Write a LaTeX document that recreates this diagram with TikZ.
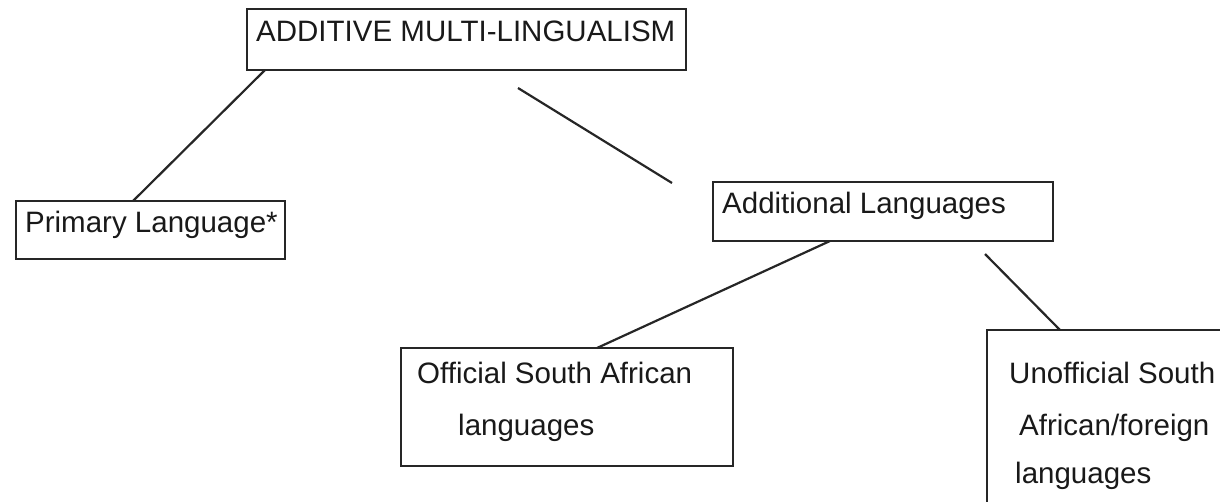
\documentclass[tikz,border=0pt]{standalone}
\usepackage{fontspec}
\setmainfont{Liberation Sans}
\begin{document}
\begin{tikzpicture}[x=1pt,y=-1pt,
  box/.style={draw=black!85, line width=2.2pt, rectangle, inner sep=0pt},
  txt/.style={anchor=base west, inner sep=0pt, text=black!90, font=\fontsize{29.5}{35}\selectfont},
  link/.style={draw=black!85, line width=2.2pt}]
\useasboundingbox (0,0) rectangle (1220,501);
\clip (0,0) rectangle (1220,501);
% boxes
\node[box, minimum width=439pt, minimum height=61pt] (top) at (466.5,39.5) {};
\node[box, minimum width=269pt, minimum height=58pt] (prim) at (150.5,230) {};
\node[box, minimum width=340pt, minimum height=59pt] (addl) at (883,211.5) {};
\node[box, minimum width=332pt, minimum height=118pt] (offl) at (567,407) {};
\node[box, minimum width=253pt, minimum height=190pt] (unof) at (1113.5,425) {};
% texts
\node[txt] (t1) at (256,41) {ADDITIVE MULTI-LINGUALISM};
\node[txt] (t2) at (25,232) {Primary Language*};
\node[txt] (t3) at (722,213) {Additional Languages};
\node[txt] (t4) at (417,383) {Official South African};
\node[txt] (t5) at (458,435) {languages};
\node[txt] (t6) at (1009,383) {Unofficial South};
\node[txt] (t7) at (1019,435) {African/foreign};
\node[txt] (t8) at (1015,483) {languages};
% connector end points
\coordinate (a1) at (265,70);
\coordinate (a2) at (133,201);
\coordinate (b1) at (518,88);
\coordinate (b2) at (672,183);
\coordinate (c1) at (830,241);
\coordinate (c2) at (597,348);
\coordinate (d1) at (985,254);
\coordinate (d2) at (1060,330);
\draw[link] (a1) -- (a2);
\draw[link] (b1) -- (b2);
\draw[link] (c1) -- (c2);
\draw[link] (d1) -- (d2);
\end{tikzpicture}
\end{document}
